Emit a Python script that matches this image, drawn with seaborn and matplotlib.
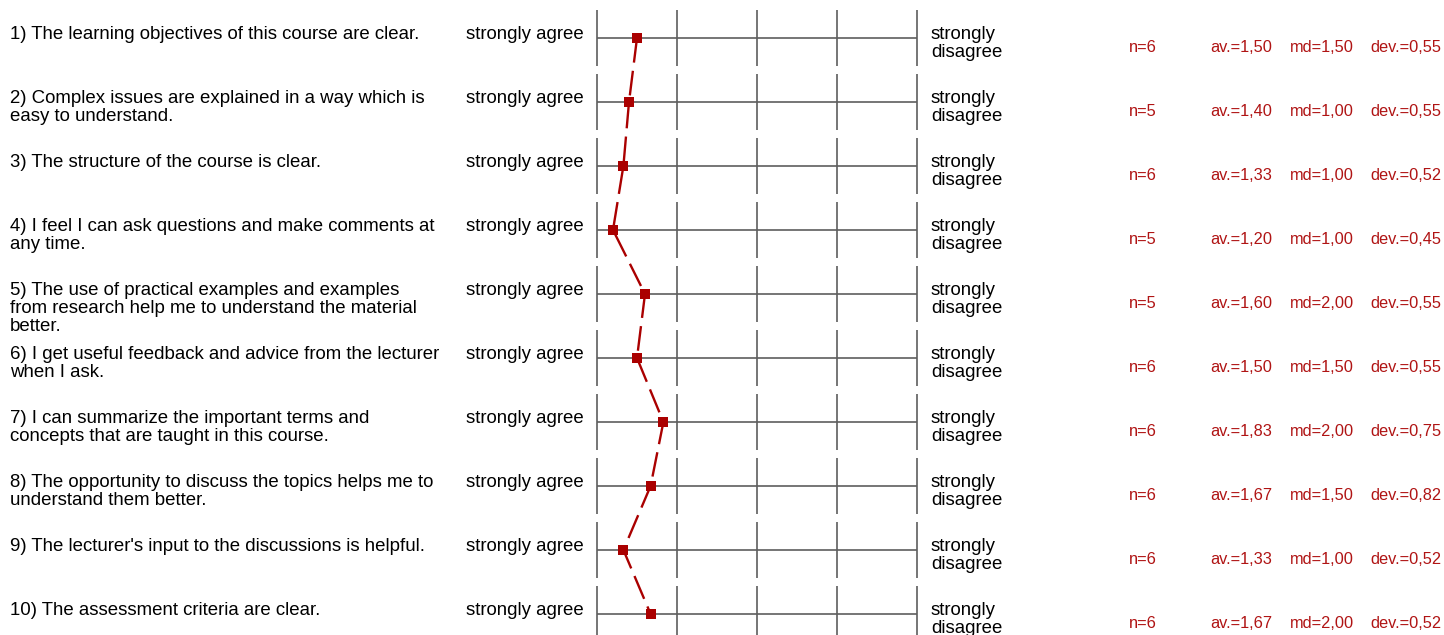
import matplotlib
matplotlib.use("Agg")
import matplotlib.pyplot as plt
import matplotlib.transforms as mtransforms
import numpy as np
import pandas as pd
import seaborn as sns

# Survey items and their summary statistics
questions = [
    "1) The learning objectives of this course are clear.",
    "2) Complex issues are explained in a way which is\neasy to understand.",
    "3) The structure of the course is clear.",
    "4) I feel I can ask questions and make comments at\nany time.",
    "5) The use of practical examples and examples\nfrom research help me to understand the material\nbetter.",
    "6) I get useful feedback and advice from the lecturer\nwhen I ask.",
    "7) I can summarize the important terms and\nconcepts that are taught in this course.",
    "8) The opportunity to discuss the topics helps me to\nunderstand them better.",
    "9) The lecturer's input to the discussions is helpful.",
    "10) The assessment criteria are clear.",
]
n_resp = [6, 5, 6, 5, 5, 6, 6, 6, 6, 6]
averages = [1.50, 1.40, 1.33, 1.20, 1.60, 1.50, 1.83, 1.67, 1.33, 1.67]
medians = [1.50, 1.00, 1.00, 1.00, 2.00, 1.50, 2.00, 1.50, 1.00, 2.00]
deviations = [0.55, 0.55, 0.52, 0.45, 0.55, 0.55, 0.75, 0.82, 0.52, 0.52]
left_label = "strongly agree"
right_label = "strongly\ndisagree"
scale_points = [1, 2, 3, 4, 5]

W, H = 1444, 635
ROW_PX = 64
TOP_PX = 38
LINE_PX = 18

sns.set_theme(style="white")
plt.rcParams["font.family"] = ["Liberation Sans", "DejaVu Sans"]

fig = plt.figure(figsize=(W / 100, H / 100), dpi=100)
fig.patch.set_facecolor("white")
ax = fig.add_axes([597 / W, 0, 320 / W, 1])
ax.set_xlim(scale_points[0], scale_points[-1])
ax.set_ylim((H - TOP_PX) / ROW_PX, -TOP_PX / ROW_PX)
ax.axis("off")

rows = np.arange(len(questions))
df = pd.DataFrame({"item": rows, "av": averages})

# Rating scale for every item: a horizontal rule with five tick marks
grid_color = "#5e5e5e"
half = 28 / ROW_PX
for r in rows:
    ax.hlines(r, scale_points[0], scale_points[-1], color=grid_color, lw=1.2, zorder=1)
    ax.vlines(scale_points, r - half, r + half, color=grid_color, lw=1.2, zorder=1,
              clip_on=False)

# Profile line of the item averages
red = "#aa0000"
sns.lineplot(data=df, x="av", y="item", sort=False, estimator=None, ax=ax,
             color=red, lw=1.7, linestyle=(0, (10.5, 3.5)), zorder=2)
sns.scatterplot(data=df, x="av", y="item", marker="s", s=50, color=red,
                edgecolor="none", ax=ax, zorder=3, clip_on=False, legend=False)

trans = mtransforms.blended_transform_factory(fig.transFigure, ax.transData)
fs = 13.4
fs_stats = 11.8
txt_red = "#b01414"


def put_lines(x_px, row, text, offset_px, size, color):
    """Write text line by line, first baseline offset_px below the row centre."""
    for k, line in enumerate(text.split("\n")):
        y = row + (offset_px + k * LINE_PX) / ROW_PX
        ax.text(x_px / W, y, line, transform=trans, fontsize=size,
                va="baseline", ha="left", color=color)


def fmt(v):
    return f"{v:.2f}".replace(".", ",")


for r in rows:
    put_lines(10, r, questions[r], 1, fs, "black")
    put_lines(466, r, left_label, 1, fs, "black")
    put_lines(931, r, right_label, 1, fs, "black")
    put_lines(1129, r, f"n={n_resp[r]}", 14, fs_stats, txt_red)
    put_lines(1210, r, "av.=" + fmt(averages[r]), 14, fs_stats, txt_red)
    put_lines(1290, r, "md=" + fmt(medians[r]), 14, fs_stats, txt_red)
    put_lines(1370, r, "dev.=" + fmt(deviations[r]), 14, fs_stats, txt_red)

fig.savefig("out.png", dpi=100, facecolor="white")
